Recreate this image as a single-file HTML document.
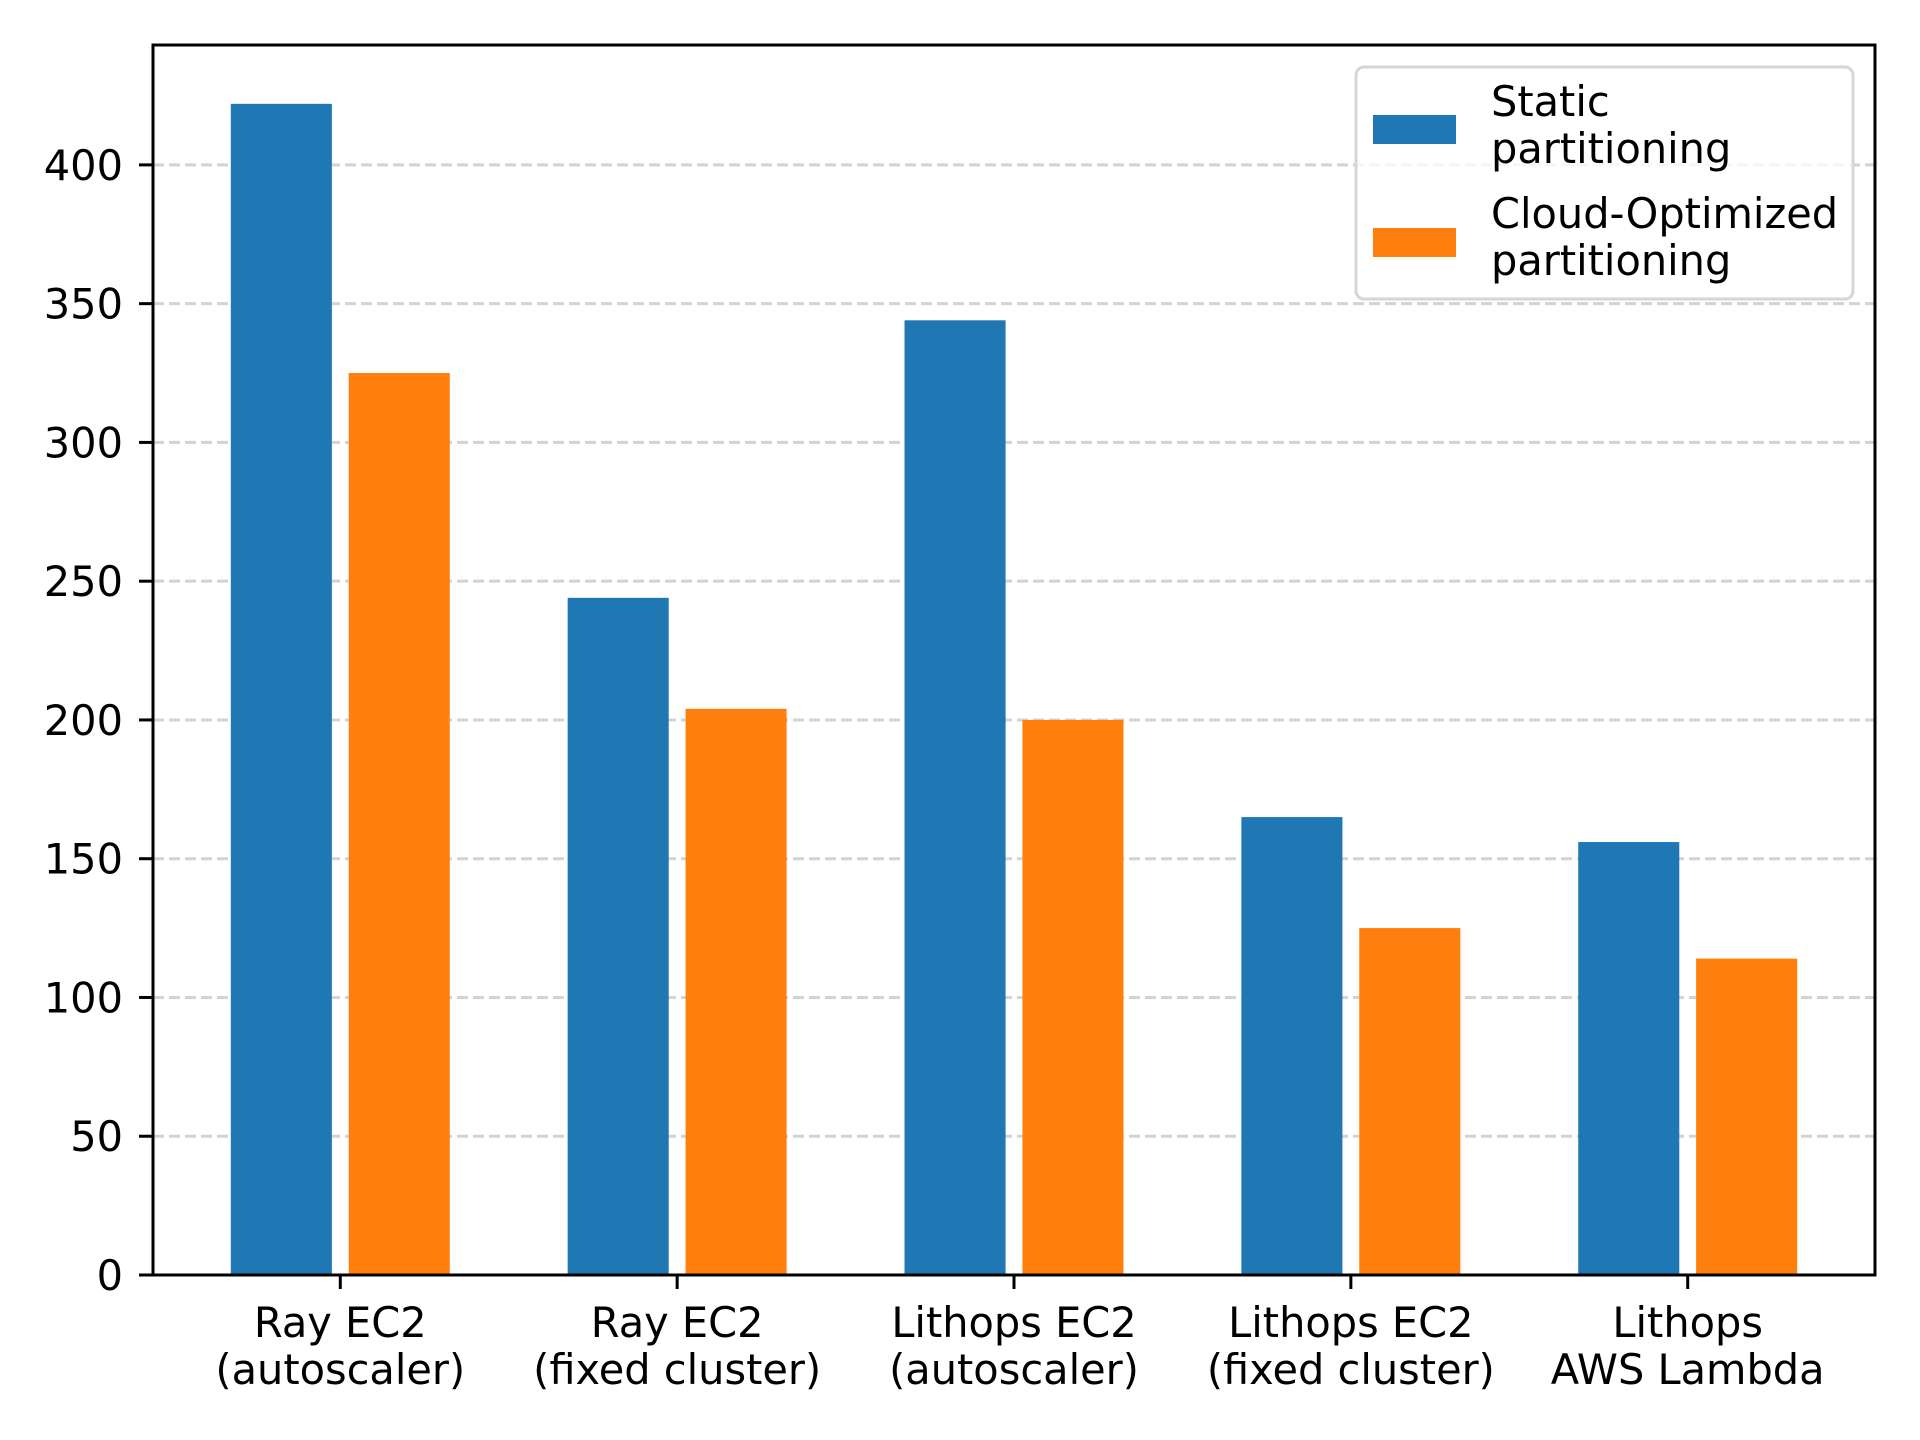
<!DOCTYPE html>
<html><head><meta charset="utf-8"><style>
html,body{margin:0;padding:0;background:#fff;}
svg{display:block;font-family:"DejaVu Sans","Liberation Sans",sans-serif;}
</style></head><body>
<svg id="chart" width="1920" height="1440" viewBox="0 0 1920 1440" xmlns="http://www.w3.org/2000/svg">
<rect width="1920" height="1440" fill="#fff"/>
<g id="grid"></g>
<g id="bars"></g>
<rect x="153" y="45" width="1722" height="1230" fill="none" stroke="#000" stroke-width="3"/>
<g id="yticks"></g>
<g id="xticks"></g>
<g>
  <rect x="1356" y="67" width="497" height="232" rx="8" fill="#fff" fill-opacity="0.8" stroke="#d6d6d6" stroke-width="3"/>
  <rect x="1373" y="115" width="83" height="29" fill="#1f77b4"/>
  <text x="1491" y="116" font-size="41.5"><tspan x="1491">Static</tspan><tspan x="1491" dy="47">partitioning</tspan></text>
  <rect x="1373" y="228" width="83" height="29" fill="#ff7f0e"/>
  <text x="1491" y="228" font-size="41.5"><tspan x="1491">Cloud-Optimized</tspan><tspan x="1491" dy="47">partitioning</tspan></text>
</g>
</svg>
<script>
const categories = [["Ray EC2","(autoscaler)"],["Ray EC2","(fixed cluster)"],["Lithops EC2","(autoscaler)"],["Lithops EC2","(fixed cluster)"],["Lithops","AWS Lambda"]];
const staticValues = [422, 244, 344, 165, 156];
const cloudValues = [325, 204, 200, 125, 114];
const yTicks = [0, 50, 100, 150, 200, 250, 300, 350, 400];

const NS = "http://www.w3.org/2000/svg";
const X0 = 153, X1 = 1875, Y0 = 1275, Y1 = 45;
const xMin = -0.556, xMax = categories.length - 1 + 0.556;
const yMin = 0, yMax = 443.2;
function xs(v){ return X0 + (v - xMin) / (xMax - xMin) * (X1 - X0); }
function ys(v){ return Y0 - (v - yMin) / (yMax - yMin) * (Y0 - Y1); }
function mk(tag, attrs, parent){ const e = document.createElementNS(NS, tag); for (const k in attrs) e.setAttribute(k, attrs[k]); parent.appendChild(e); return e; }

const grid = document.getElementById('grid');
const barsG = document.getElementById('bars');
const yG = document.getElementById('yticks');
const xG = document.getElementById('xticks');
const bw = 0.3;

yTicks.forEach(t => {
  const y = ys(t);
  if (t > 0) {
    const g = mk('line', {x1: X0, x2: X1, y1: y, y2: y, stroke: '#d3d3d3', 'stroke-width': 3, 'stroke-dasharray': '11,5'}, grid);
    
    
  }
  const tk = mk('line', {x1: X0 - 14, x2: X0, y1: y, y2: y, stroke: '#000', 'stroke-width': 3}, yG);
  
  
  const lb = mk('text', {x: X0 - 30, y: y + 15, 'font-size': 41.5, 'text-anchor': 'end'}, yG);
  lb.textContent = t;
  
  
});

categories.forEach((c, i) => {
  const b1 = mk('rect', {x: xs(i - 0.175 - bw/2), y: ys(staticValues[i]), width: xs(bw) - xs(0), height: ys(0) - ys(staticValues[i]), fill: '#1f77b4'}, barsG);
  
  
  const b2 = mk('rect', {x: xs(i + 0.175 - bw/2), y: ys(cloudValues[i]), width: xs(bw) - xs(0), height: ys(0) - ys(cloudValues[i]), fill: '#ff7f0e'}, barsG);
  
  
  const x = xs(i);
  const tk = mk('line', {x1: x, x2: x, y1: Y0, y2: Y0 + 14, stroke: '#000', 'stroke-width': 3}, xG);
  
  
  const lb = mk('text', {x: x, y: 1337, 'font-size': 41.5, 'text-anchor': 'middle'}, xG);
  
  
  const t1 = mk('tspan', {x: x}, lb); t1.textContent = c[0];
  const t2 = mk('tspan', {x: x, dy: 47}, lb); t2.textContent = c[1];
});
</script>
</body></html>
